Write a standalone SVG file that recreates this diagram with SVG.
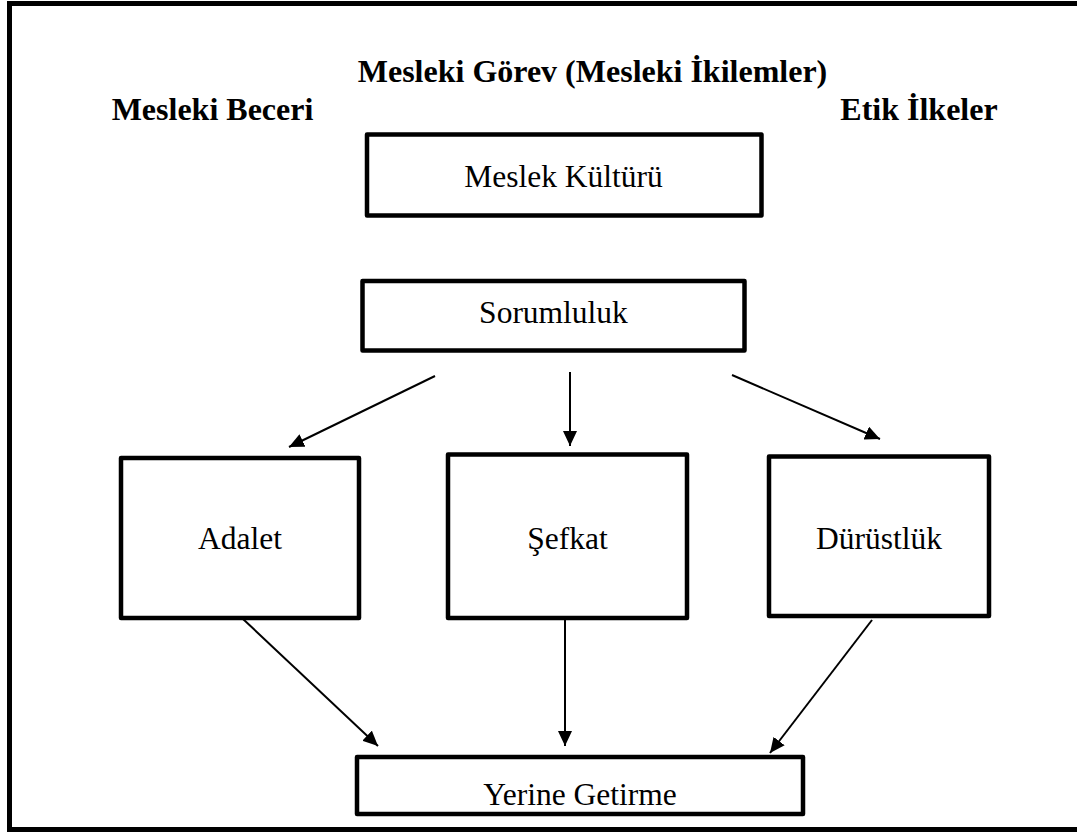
<svg xmlns="http://www.w3.org/2000/svg" width="1077" height="832" viewBox="0 0 1077 832">
<defs>
<style>
.box{fill:#fff;stroke:#000;stroke-width:4.5;stroke-linejoin:round}
.lbl{font-family:"Liberation Serif","Times New Roman",serif;font-size:31.5px;fill:#000;text-anchor:middle}
.hdr{font-family:"Liberation Serif","Times New Roman",serif;font-size:32px;font-weight:bold;fill:#000;text-anchor:middle}
.con{stroke:#000;stroke-width:2;fill:none;marker-end:url(#ah)}
</style>
<marker id="ah" markerUnits="userSpaceOnUse" markerWidth="16" markerHeight="14" refX="15" refY="7" orient="auto">
<path d="M0,0 L15,7 L0,14 Z" fill="#000"/>
</marker>
</defs>
<rect x="0" y="0" width="1077" height="832" fill="#fff"/>
<rect id="frame" x="9.5" y="3.5" width="1075" height="826" fill="none" stroke="#000" stroke-width="5"/>
<g id="headers">
<text class="hdr" x="592.5" y="82">Mesleki Görev (Mesleki İkilemler)</text>
<text class="hdr" x="212.5" y="120">Mesleki Beceri</text>
<text class="hdr" x="919" y="120">Etik İlkeler</text>
</g>
<g id="meslek-kulturu">
<rect class="box" x="367" y="134.5" width="394.5" height="81"/>
<text class="lbl" x="563.5" y="187">Meslek Kültürü</text>
</g>
<g id="sorumluluk">
<rect class="box" x="362.5" y="281" width="382" height="69.5"/>
<text class="lbl" x="553.5" y="323">Sorumluluk</text>
</g>
<g id="adalet">
<rect class="box" x="121" y="458" width="238" height="160"/>
<text class="lbl" x="240" y="549">Adalet</text>
</g>
<g id="sefkat">
<rect class="box" x="448" y="454.5" width="239" height="163.5"/>
<text class="lbl" x="567.5" y="549">Şefkat</text>
</g>
<g id="durustluk">
<rect class="box" x="769" y="456.5" width="220" height="159.5"/>
<text class="lbl" x="879" y="549">Dürüstlük</text>
</g>
<g id="yerine-getirme">
<rect class="box" x="357" y="757" width="446" height="57"/>
<text class="lbl" x="580" y="805">Yerine Getirme</text>
</g>
<g id="connectors">
<line class="con" x1="435" y1="376" x2="289" y2="447"/>
<line class="con" x1="570" y1="372" x2="570" y2="446"/>
<line class="con" x1="732" y1="375" x2="880" y2="439"/>
<line class="con" x1="243" y1="619" x2="378" y2="746"/>
<line class="con" x1="565" y1="620" x2="565" y2="746"/>
<line class="con" x1="872" y1="620" x2="770" y2="753"/>
</g>
</svg>
